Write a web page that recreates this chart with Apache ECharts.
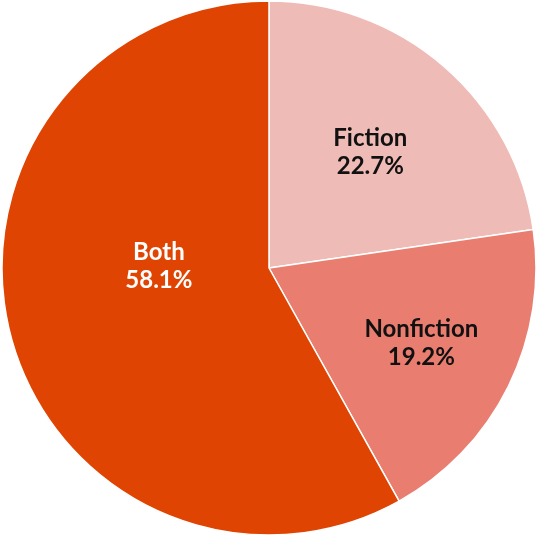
<!DOCTYPE html>
<html>
<head>
<meta charset="utf-8">
<script src="https://cdn.jsdelivr.net/npm/echarts@6/dist/echarts.min.js"></script>
<style>
  html, body { margin: 0; padding: 0; background: #fff; }
  #chart { width: 539px; height: 537px; }
</style>
</head>
<body>
<div id="chart"></div>
<script>
const categories = ['Fiction', 'Nonfiction', 'Both'];
const shares = [22.7, 19.2, 58.1];
const sliceColors = ['#EFBBB6', '#E97E70', '#E04403'];
const labelColors = ['#111111', '#111111', '#ffffff'];
// nudge labels away from the default "inside" spot
const labelOffsets = [[12, -12], [30, 15], [22, -36]];

const chart = echarts.init(document.getElementById('chart'));

const data = categories.map((name, i) => ({
  name,
  value: shares[i],
  itemStyle: { color: sliceColors[i] },
  label: { color: labelColors[i], offset: labelOffsets[i] },
}));

chart.setOption({
  animation: false,
  series: [
    {
      type: 'pie',
      center: [269, 268],
      radius: [0, 267],
      startAngle: 90,
      clockwise: true,
      itemStyle: { borderColor: '#ffffff', borderWidth: 1.5 },
      label: {
        show: true,
        position: 'inside',
        formatter: (p) => `${p.name}\n${p.value.toFixed(1)}%`,
        fontFamily: 'Lato',
        fontWeight: 'bold',
        fontSize: 24,
        lineHeight: 28,
        align: 'center',
      },
      labelLine: { show: false },
      emphasis: { disabled: true },
      data,
    },
  ],
});
</script>
</body>
</html>
